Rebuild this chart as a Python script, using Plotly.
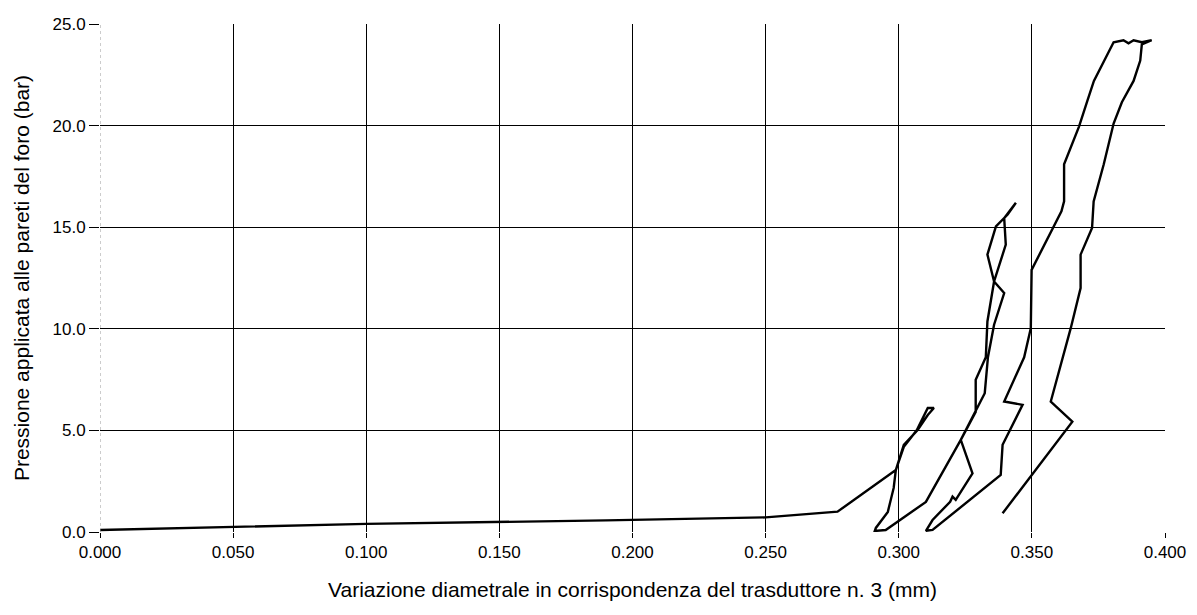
import plotly.graph_objects as go

# ---- data (diametral change mm, pressure bar) ----
initial_x = [0.000, 0.030, 0.100, 0.190, 0.250, 0.277]
initial_y = [0.10, 0.20, 0.40, 0.57, 0.72, 1.00]

load1_x = [0.2989, 0.3019, 0.3071, 0.3109, 0.3132]
load1_y = [3.05, 4.29, 5.02, 5.76, 6.10]

unload1_x = [0.3109, 0.3068, 0.3019, 0.2989, 0.2981, 0.2959, 0.2914, 0.2910]
unload1_y = [6.10, 5.02, 4.19, 3.05, 2.17, 0.99, 0.20, 0.05]

load2_x = [0.2951, 0.3102, 0.3233, 0.3289, 0.3289, 0.3327, 0.3333, 0.3358,
           0.3333, 0.3365, 0.3409, 0.3440]
load2_y = [0.10, 1.48, 4.53, 5.91, 7.49, 8.60, 10.36, 12.33,
           13.65, 15.04, 15.62, 16.20]

unload2_x = [0.3396, 0.3402, 0.3358, 0.3396, 0.3358, 0.3335, 0.3323, 0.3289,
             0.3233, 0.3277, 0.3214, 0.3202, 0.3193, 0.3127, 0.3102]
unload2_y = [15.45, 14.14, 12.33, 11.76, 10.20, 8.60, 6.83, 5.93,
             4.53, 2.89, 1.58, 1.74, 1.49, 0.59, 0.06]

load3_x = [0.3127, 0.3383, 0.3390, 0.3465, 0.3396, 0.3471, 0.3496, 0.3499,
           0.3611, 0.3621, 0.3621, 0.3677, 0.3708, 0.3733, 0.3807]
load3_y = [0.10, 2.81, 4.29, 6.26, 6.42, 8.60, 10.03, 12.90,
           15.78, 16.27, 18.10, 19.95, 21.20, 22.20, 24.10]

plateau_x = [0.3844, 0.3863, 0.3882, 0.3913, 0.3950, 0.3913]
plateau_y = [24.20, 24.05, 24.20, 24.10, 24.20, 24.00]

unload3_x = [0.3907, 0.3882, 0.3838, 0.3807, 0.3770, 0.3732, 0.3726, 0.3683,
             0.3683, 0.3683, 0.3646, 0.3608, 0.3571, 0.3652, 0.3390]
unload3_y = [23.20, 22.20, 21.15, 20.10, 18.10, 16.27, 14.96, 13.65,
             12.66, 12.00, 10.03, 8.23, 6.42, 5.43, 0.92]

x_ticks = [0.0, 0.05, 0.10, 0.15, 0.20, 0.25, 0.30, 0.35, 0.40]
x_tick_labels = ["0.000", "0.050", "0.100", "0.150", "0.200", "0.250", "0.300", "0.350", "0.400"]
y_ticks = [0, 5, 10, 15, 20, 25]
y_tick_labels = ["0.0", "5.0", "10.0", "15.0", "20.0", "25.0"]

x_title = "Variazione diametrale in corrispondenza del trasduttore n. 3 (mm)"
y_title = "Pressione applicata alle pareti del foro (bar)"

segments_x = [initial_x, load1_x, unload1_x, load2_x, unload2_x, load3_x, plateau_x, unload3_x]
segments_y = [initial_y, load1_y, unload1_y, load2_y, unload2_y, load3_y, plateau_y, unload3_y]
all_x = [v for s in segments_x for v in s]
all_y = [v for s in segments_y for v in s]

FONT = "Arial, 'Liberation Sans', sans-serif"

fig = go.Figure()
fig.add_trace(go.Scatter(x=all_x, y=all_y, mode="lines",
                         line=dict(color="black", width=2.4),
                         showlegend=False, hoverinfo="x+y"))

# faint dotted left axis as in the scan
fig.add_shape(type="line", xref="x", yref="paper", x0=0, x1=0, y0=0, y1=1,
              line=dict(color="#999999", width=1, dash="dot"))

fig.update_xaxes(range=[0, 0.4], tickvals=x_ticks, ticktext=x_tick_labels,
                 showgrid=True, gridcolor="black", gridwidth=1,
                 zeroline=False, showline=False, automargin=False,
                 ticks="outside", ticklen=5, tickcolor="black",
                 tickfont=dict(family=FONT, size=17, color="black"),
                 title=dict(text=x_title, font=dict(family=FONT, size=21, color="black"),
                            standoff=20))
fig.update_yaxes(range=[0, 25], tickvals=y_ticks, ticktext=y_tick_labels,
                 showgrid=True, gridcolor="black", gridwidth=1,
                 zeroline=False, showline=False, automargin=False,
                 ticks="outside", ticklen=10, tickcolor="black",
                 tickfont=dict(family=FONT, size=17, color="black"),
                 title=dict(text=y_title, font=dict(family=FONT, size=21, color="black"),
                            standoff=17))

fig.update_layout(width=1197, height=615,
                  margin=dict(l=100, r=32, t=24, b=83),
                  plot_bgcolor="white", paper_bgcolor="white",
                  font=dict(family=FONT, color="black"))

fig.write_html("out.html", config={"displayModeBar": False},
               post_script="document.body.style.margin='0';")
